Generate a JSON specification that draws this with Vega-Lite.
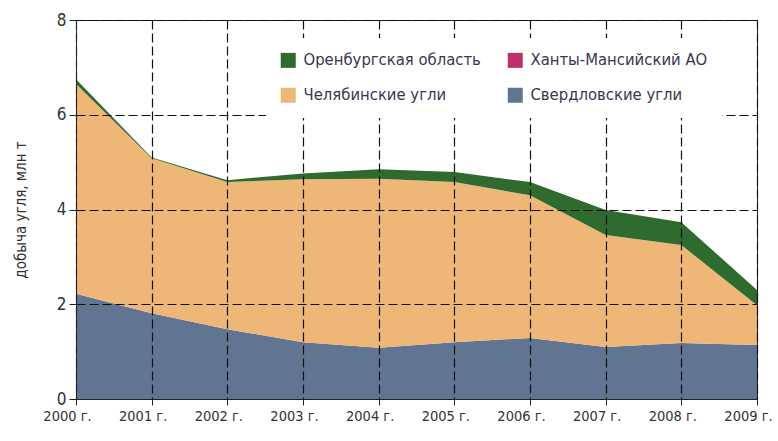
{
  "$schema": "https://vega.github.io/schema/vega-lite/v6.json",
  "width": 681,
  "height": 379,
  "autosize": {"type": "none"},
  "padding": {"left": 76, "top": 20, "right": 21, "bottom": 42},
  "background": "white",
  "config": {
    "view": {"stroke": "#222", "strokeWidth": 1},
    "font": "DejaVu Sans Condensed, Liberation Sans, sans-serif"
  },
  "data": {
    "values": [
      {"year": 2000, "region": "Свердловские угли", "o": 1, "value": 2.22},
      {"year": 2001, "region": "Свердловские угли", "o": 1, "value": 1.81},
      {"year": 2002, "region": "Свердловские угли", "o": 1, "value": 1.47},
      {"year": 2003, "region": "Свердловские угли", "o": 1, "value": 1.2},
      {"year": 2004, "region": "Свердловские угли", "o": 1, "value": 1.08},
      {"year": 2005, "region": "Свердловские угли", "o": 1, "value": 1.2},
      {"year": 2006, "region": "Свердловские угли", "o": 1, "value": 1.29},
      {"year": 2007, "region": "Свердловские угли", "o": 1, "value": 1.1},
      {"year": 2008, "region": "Свердловские угли", "o": 1, "value": 1.18},
      {"year": 2009, "region": "Свердловские угли", "o": 1, "value": 1.14},
      {"year": 2000, "region": "Челябинские угли", "o": 2, "value": 4.43},
      {"year": 2001, "region": "Челябинские угли", "o": 2, "value": 3.27},
      {"year": 2002, "region": "Челябинские угли", "o": 2, "value": 3.11},
      {"year": 2003, "region": "Челябинские угли", "o": 2, "value": 3.44},
      {"year": 2004, "region": "Челябинские угли", "o": 2, "value": 3.57},
      {"year": 2005, "region": "Челябинские угли", "o": 2, "value": 3.38},
      {"year": 2006, "region": "Челябинские угли", "o": 2, "value": 3.01},
      {"year": 2007, "region": "Челябинские угли", "o": 2, "value": 2.36},
      {"year": 2008, "region": "Челябинские угли", "o": 2, "value": 2.07},
      {"year": 2009, "region": "Челябинские угли", "o": 2, "value": 0.84},
      {"year": 2000, "region": "Ханты-Мансийский АО", "o": 3, "value": 0},
      {"year": 2001, "region": "Ханты-Мансийский АО", "o": 3, "value": 0},
      {"year": 2002, "region": "Ханты-Мансийский АО", "o": 3, "value": 0},
      {"year": 2003, "region": "Ханты-Мансийский АО", "o": 3, "value": 0},
      {"year": 2004, "region": "Ханты-Мансийский АО", "o": 3, "value": 0},
      {"year": 2005, "region": "Ханты-Мансийский АО", "o": 3, "value": 0},
      {"year": 2006, "region": "Ханты-Мансийский АО", "o": 3, "value": 0},
      {"year": 2007, "region": "Ханты-Мансийский АО", "o": 3, "value": 0},
      {"year": 2008, "region": "Ханты-Мансийский АО", "o": 3, "value": 0},
      {"year": 2009, "region": "Ханты-Мансийский АО", "o": 3, "value": 0},
      {"year": 2000, "region": "Оренбургская область", "o": 4, "value": 0.1},
      {"year": 2001, "region": "Оренбургская область", "o": 4, "value": 0.02},
      {"year": 2002, "region": "Оренбургская область", "o": 4, "value": 0.04},
      {"year": 2003, "region": "Оренбургская область", "o": 4, "value": 0.12},
      {"year": 2004, "region": "Оренбургская область", "o": 4, "value": 0.2},
      {"year": 2005, "region": "Оренбургская область", "o": 4, "value": 0.21},
      {"year": 2006, "region": "Оренбургская область", "o": 4, "value": 0.28},
      {"year": 2007, "region": "Оренбургская область", "o": 4, "value": 0.53},
      {"year": 2008, "region": "Оренбургская область", "o": 4, "value": 0.48},
      {"year": 2009, "region": "Оренбургская область", "o": 4, "value": 0.32}
    ]
  },
  "mark": {"type": "area", "interpolate": "linear"},
  "encoding": {
    "x": {
      "field": "year",
      "type": "quantitative",
      "scale": {"domain": [2000, 2009], "nice": false, "zero": false},
      "axis": {
        "zindex": 1,
        "values": [2000, 2001, 2002, 2003, 2004, 2005, 2006, 2007, 2008, 2009],
        "labelExpr": "datum.value + ' г.'",
        "title": null,
        "grid": true,
        "gridColor": "#111",
        "gridDash": [9, 4],
        "gridWidth": 1.2,
        "domainColor": "#222",
        "tickColor": "#222",
        "tickSize": 6,
        "labelFontSize": 14.5,
        "labelOffset": -9,
        "labelColor": "#333",
        "labelPadding": 4,
        "labelOverlap": false,
        "labelBound": false,
        "labelFlush": false
      }
    },
    "y": {
      "field": "value",
      "type": "quantitative",
      "stack": "zero",
      "scale": {"domain": [0, 8], "nice": false},
      "axis": {
        "zindex": 1,
        "values": [0, 2, 4, 6, 8],
        "title": "добыча угля, млн т",
        "titleFontSize": 15,
        "titleFontWeight": "normal",
        "titleColor": "#333",
        "titlePadding": 28,
        "grid": true,
        "gridColor": "#111",
        "gridDash": [9, 4],
        "gridWidth": 1.2,
        "domainColor": "#222",
        "tickColor": "#222",
        "tickSize": 7,
        "labelFontSize": 17,
        "labelColor": "#333",
        "labelPadding": 3
      }
    },
    "color": {
      "field": "region",
      "type": "nominal",
      "scale": {
        "domain": ["Оренбургская область", "Ханты-Мансийский АО", "Челябинские угли", "Свердловские угли"],
        "range": ["#2f6a2e", "#bf2f6b", "#efb777", "#617592"]
      },
      "legend": {
        "zindex": 2,
        "title": null,
        "orient": "none",
        "legendX": 190,
        "legendY": 18,
        "columns": 2,
        "direction": "horizontal",
        "symbolType": "square",
        "symbolSize": 225,
        "symbolStrokeWidth": 0,
        "symbolOpacity": 1,
        "labelFontSize": 16.5,
        "labelColor": "#3a3550",
        "labelOffset": 7,
        "rowPadding": 18,
        "columnPadding": 26,
        "fillColor": "white",
        "padding": 14,
        "labelLimit": 300
      }
    },
    "order": {"field": "o", "type": "quantitative"}
  }
}
